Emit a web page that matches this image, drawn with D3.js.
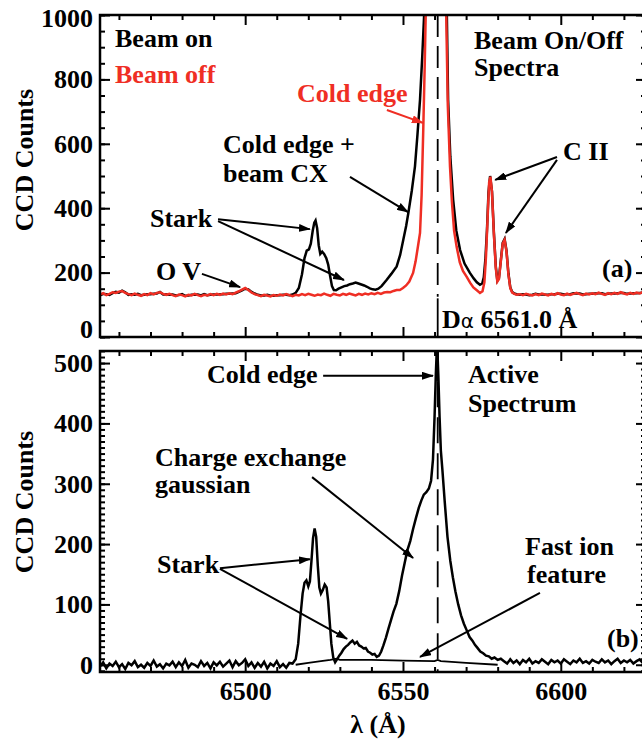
<!DOCTYPE html>
<html>
<head>
<meta charset="utf-8">
<script src="https://cdn.jsdelivr.net/npm/d3@7"></script>
<style>
  body { margin: 0; background: #fff; }
  svg text { font-family: "Liberation Serif", "Times New Roman", serif; font-weight: bold; }
</style>
</head>
<body>
<div id="chart"></div>
<script>
// ---- data ----
const xDomain = [6454, 6627];
const xMajorTicks = [6500, 6550, 6600];
const xMinorTicks = [6460, 6470, 6480, 6490, 6510, 6520, 6530, 6540, 6560, 6570, 6580, 6590, 6610, 6620];
const yATicks = [0, 200, 400, 600, 800, 1000];
const yBTicks = [0, 100, 200, 300, 400, 500];
const dAlpha = 6561.0;

// beam off spectrum (a), 1 A steps on the flat parts
const offBaseLeft = [
  132,136,130,134,139,137,141,143,137,133,
  130,135,131,128,133,130,136,132,137,139,
  134,131,134,130,127,132,130,126,131,129,
  134,130,127,131,129,133,130,134,131,135,
  132,136,133,138,142,147,152,146,138,133,
  130,127,131,129,126,130,128,132,129,133,
  130,127,131,129,133,130,134,131,128,132,
  130,135,131,128,134,131,129,134,131,135,
  132,129,134,131,135,132,136,133,137,134,
  138,140,139,143,146];                       // 6454..6548
const offPeak = [
  [6549,146],[6550,152],[6551,160],[6552,172],[6553.2,199],[6554,235],[6554.8,285],[6555.4,323],
  [6555.9,440],[6556.4,634],[6556.9,850],[6557.3,1050],[6558,1600],[6559,2600],[6560.5,3500],
  [6562,2600],[6563,1600],[6563.7,1000],[6564.2,720],[6564.9,529],[6565.5,420],[6566.2,330],
  [6567,280],[6568,232],[6569,205],[6570.2,187],[6571.3,168],[6572.3,154],[6573.3,146],
  [6574.4,137],[6575.2,142],[6575.8,170],[6576.3,250],[6576.9,390],[6577.3,480],[6577.7,498],
  [6578.2,450],[6578.8,320],[6579.4,215],[6579.9,172],[6580.4,180],[6581,235],[6581.6,290],
  [6582.2,302],[6582.8,265],[6583.4,195],[6584,152],[6584.6,138],[6585.3,134],[6586,131]];
const offBaseRight = [
  133,130,134,131,129,133,130,135,132,129,
  134,131,136,132,130,135,131,134,137,133,
  130,135,132,136,133,138,134,131,136,133,
  137,134,139,135,132,137,134,138,135,140,136]; // 6587..6627

// beam on spectrum (a)
const onBaseLeft = [
  129,134,133,131,136,140,138,144,139,131,
  133,131,134,130,131,133,133,134,135,140,
  132,133,131,132,129,130,133,128,129,131,
  131,132,129,133,130,131,132,132,133,133,
  134,134,135,136,140,145,150,148,140,135,
  131,129,129,131,128,128,130,130,131,131,
  130];                                        // 6454..6514
const onFeature = [
  [6515,132],[6516,137],[6517,152],[6518,195],[6518.8,245],[6519.5,268],[6520.2,272],[6520.8,290],
  [6521.4,330],[6521.9,355],[6522.3,362],[6522.8,338],[6523.3,285],[6523.8,258],[6524.4,265],
  [6525,258],[6525.7,245],[6526.3,225],[6526.9,190],[6527.5,158],[6528.1,146],[6528.8,145],
  [6529.6,150],[6530.5,154],[6531.4,158],[6532.3,160],[6533.2,164],[6534.1,166],[6535,169],
  [6535.9,166],[6536.8,163],[6537.7,160],[6538.6,156],[6539.5,151],[6540.4,148],[6541.3,147],
  [6542.2,150],[6543.2,158],[6544.8,177],[6546.3,196],[6548,219],[6549.1,255],[6550.1,302],
  [6551,345],[6551.7,385],[6552.8,455],[6553.8,530],[6554.6,630],[6555.4,737],[6556.1,870],
  [6556.7,1000],[6557.5,1500],[6559,2700],[6560.5,3700],[6562,2700],[6563.2,1500],[6563.9,1000],
  [6564.3,737],[6565,560],[6565.9,426],[6566.9,330],[6568.1,270],[6569.5,228],[6571.2,199],
  [6572.4,182],[6573.4,170],[6574.4,162],[6575.1,166],[6575.6,185],[6576.1,240],[6576.6,330],
  [6577.1,450],[6577.6,500],[6578.2,452],[6578.8,325],[6579.4,220],[6579.9,175],[6580.4,183],
  [6581,238],[6581.6,292],[6582.2,304],[6582.8,268],[6583.4,198],[6584,154],[6584.6,140],
  [6585.3,135],[6586,133]];
const onBaseRight = [
  131,133,132,130,131,134,132,133,131,131,
  133,133,134,134,132,133,133,136,135,135,
  132,133,134,134,135,136,136,133,134,135,
  135,136,137,137,134,135,136,136,137,138,138]; // 6587..6627

// active (beam on - beam off) spectrum (b)
const activeBaseLeft = [
  -3,4,-6,2,-2,5,-4,1,-7,3,
  -1,6,-4,0,-5,3,-2,7,-3,1,
  -6,2,-1,5,-4,4,-2,8,-5,2,
  0,-4,6,-2,3,-6,4,-1,5,-3,
  2,7,-4,6,-1,3,9,-2,4,-5,
  3,-3,5,-6,2,-2,6,-4,1,-5,
  3];                                          // 6454..6514
const activeFeature = [
  [6515,2],[6516,9],[6516.8,35],[6517.5,80],[6518.2,118],[6518.8,136],[6519.4,140],[6520,130],
  [6520.5,138],[6521,172],[6521.5,210],[6522,226],[6522.5,212],[6523,165],[6523.5,128],[6524,118],
  [6524.6,124],[6525.2,133],[6525.8,128],[6526.3,105],[6526.8,70],[6527.3,35],[6527.9,12],
  [6528.5,4],[6529.1,9],[6529.8,15],[6530.5,20],[6531.2,26],[6531.9,30],[6532.6,33],[6533.3,37],
  [6534,40],[6534.7,35],[6535.4,38],[6536.1,32],[6536.8,30],[6537.5,27],[6538.2,28],[6538.9,22],
  [6539.6,20],[6540.3,17],[6541,18],[6541.7,13],[6542.4,15],[6543.1,22],[6543.8,32],[6544.6,45],
  [6545.4,60],[6546.2,74],[6547,88],[6547.9,101],[6548.8,122],[6549.7,148],[6550.5,168],
  [6551.4,190],[6552.3,205],[6553.2,225],[6554.1,243],[6555,260],[6555.8,272],[6556.6,282],
  [6557.4,286],[6558.2,292],[6558.9,305],[6559.5,340],[6560,410],[6560.4,480],[6560.8,535],
  [6561.2,480],[6561.6,410],[6562,355],[6562.5,322],[6563.2,272],[6564.1,212],[6565,172],
  [6565.8,145],[6566.6,122],[6567.5,100],[6568.4,82],[6569.3,68],[6570.2,57],[6571.1,46],
  [6572,40],[6572.8,33],[6573.6,28],[6574.5,22],[6575.4,19],[6576.3,15],[6577.2,14],[6578.1,10],
  [6579,12],[6580,8],[6581,10]];
const activeBaseRight = [
  6,2,9,3,7,1,8,4,10,2,
  6,3,9,5,1,8,4,7,2,9,
  5,1,7,4,10,3,6,2,8,5,
  3,9,4,7,1,6,10,3,7,4,
  8,2,6,9,3,7];                                // 6582..6627

// fast ion feature fit (b)
const fastIon = [[6516,0],[6520,3],[6524,6],[6527,8],[6529,10],[6530,8],[6540,8],[6550,7],
  [6560,6],[6561,8],[6562,6],[6570,3],[6580,0]];

// annotation arrows in data units
const arrowsA = [
  {from: [6491.4, 366], to: [6520.5, 335], color: 'black'},
  {from: [6491.4, 360], to: [6531.3, 177], color: 'black'},
  {from: [6486.3, 196], to: [6498.4, 155], color: 'black'},
  {from: [6533.2, 497], to: [6551.6, 388], color: 'black'},
  {from: [6544.9, 705], to: [6556.3, 665], color: 'red'},
  {from: [6598.8, 559], to: [6579.2, 488], color: 'black'},
  {from: [6598.8, 550], to: [6582.6, 323], color: 'black'}
];
const arrowsB = [
  {from: [6524.7, 479], to: [6559.5, 479], color: 'black'},
  {from: [6521.2, 311], to: [6553.2, 177], color: 'black'},
  {from: [6492.0, 160], to: [6520.5, 175], color: 'black'},
  {from: [6492.0, 159], to: [6532.3, 43], color: 'black'},
  {from: [6593.4, 119], to: [6555.4, 13], color: 'black'}
];

// ---- layout ----
const width = 642, height = 743;
const left = 100, right = 646;
const panelA = {top: 15, bottom: 337};
const panelB = {top: 351, bottom: 672};
const red = '#ef2e24';
const fontSize = 26;

const x = d3.scaleLinear().domain(xDomain).range([left, right]);
const yA = d3.scaleLinear().domain([0, 1000]).range([panelA.bottom, panelA.top]);
const yB = d3.scaleLinear().domain([-12, 520]).range([panelB.bottom, panelB.top]);

function expand(start, counts) {
  return counts.map((c, i) => [start + i, c]);
}
const beamOff = [...expand(6454, offBaseLeft), ...offPeak, ...expand(6587, offBaseRight)];
const beamOn = [...expand(6454, onBaseLeft), ...onFeature, ...expand(6587, onBaseRight)];
const active = [...expand(6454, activeBaseLeft), ...activeFeature, ...expand(6582, activeBaseRight)];

const svg = d3.select('#chart')
  .append('svg')
  .attr('width', width)
  .attr('height', height);

const defs = svg.append('defs');
[['A', panelA], ['B', panelB]].forEach(([id, p]) => {
  defs.append('clipPath').attr('id', 'clip' + id)
    .append('rect')
    .attr('x', left).attr('y', p.top)
    .attr('width', right - left).attr('height', p.bottom - p.top);
});
[['black', 'black'], ['red', red]].forEach(([id, col]) => {
  defs.append('marker')
    .attr('id', 'arrow-' + id)
    .attr('viewBox', '0 0 12 8')
    .attr('refX', 11).attr('refY', 4)
    .attr('markerWidth', 12).attr('markerHeight', 8)
    .attr('markerUnits', 'userSpaceOnUse')
    .attr('orient', 'auto')
    .append('path')
    .attr('d', 'M0,0L12,4L0,8Z')
    .attr('fill', col);
});

function drawAxes(y, p, yMajor, yMinor, withXLabels) {
  const g = svg.append('g');
  const style = sel => {
    sel.select('.domain').remove();
    sel.selectAll('.tick line').attr('stroke', 'black').attr('stroke-width', 2);
    sel.selectAll('text')
      .attr('font-family', '"Liberation Serif", serif')
      .attr('font-weight', 'bold')
      .attr('font-size', fontSize)
      .attr('fill', 'black');
  };
  // left
  g.append('g').attr('transform', `translate(${left},0)`)
    .call(d3.axisLeft(y).tickValues(yMinor).tickSize(-5).tickFormat('')).call(style);
  const yl = g.append('g').attr('transform', `translate(${left},0)`)
    .call(d3.axisLeft(y).tickValues(yMajor).tickSize(-10).tickPadding(7).tickFormat(d3.format('d')))
    .call(style);
  // right
  g.append('g').attr('transform', `translate(${right},0)`)
    .call(d3.axisRight(y).tickValues(yMinor).tickSize(-5).tickFormat('')).call(style);
  g.append('g').attr('transform', `translate(${right},0)`)
    .call(d3.axisRight(y).tickValues(yMajor).tickSize(-10).tickFormat('')).call(style);
  // top
  g.append('g').attr('transform', `translate(0,${p.top})`)
    .call(d3.axisTop(x).tickValues(xMinorTicks).tickSize(-5).tickFormat('')).call(style);
  g.append('g').attr('transform', `translate(0,${p.top})`)
    .call(d3.axisTop(x).tickValues(xMajorTicks).tickSize(-10).tickFormat('')).call(style);
  // bottom
  g.append('g').attr('transform', `translate(0,${p.bottom})`)
    .call(d3.axisBottom(x).tickValues(xMinorTicks).tickSize(-5).tickFormat('')).call(style);
  g.append('g').attr('transform', `translate(0,${p.bottom})`)
    .call(d3.axisBottom(x).tickValues(xMajorTicks).tickSize(-10).tickPadding(10)
      .tickFormat(withXLabels ? d3.format('d') : '')).call(style);
  // frame
  g.append('rect')
    .attr('x', left).attr('y', p.top)
    .attr('width', right - left).attr('height', p.bottom - p.top)
    .attr('fill', 'none').attr('stroke', 'black').attr('stroke-width', 2.5);
  return yl;
}

function line(y) {
  return d3.line().x(d => x(d[0])).y(d => y(d[1]));
}

function drawArrows(list, y) {
  svg.append('g').selectAll('line')
    .data(list)
    .join('line')
    .attr('x1', d => x(d.from[0])).attr('y1', d => y(d.from[1]))
    .attr('x2', d => x(d.to[0])).attr('y2', d => y(d.to[1]))
    .attr('stroke', d => d.color === 'red' ? red : 'black')
    .attr('stroke-width', 2)
    .attr('marker-end', d => `url(#arrow-${d.color})`);
}

function addText(str, px, py, opts = {}) {
  const t = svg.append('text')
    .attr('x', px).attr('y', py)
    .attr('font-size', opts.size || fontSize)
    .attr('fill', opts.color || 'black')
    .attr('text-anchor', opts.anchor || 'start')
    .text(str);
  if (opts.transform) t.attr('transform', opts.transform).attr('x', 0).attr('y', 0);
  return t;
}

// ---- panel (a) ----
const plotA = svg.append('g').attr('clip-path', 'url(#clipA)');
plotA.append('path').datum(beamOn)
  .attr('d', line(yA)).attr('fill', 'none').attr('stroke', 'black').attr('stroke-width', 2.5);
plotA.append('path').datum(beamOff)
  .attr('d', line(yA)).attr('fill', 'none').attr('stroke', red).attr('stroke-width', 2.5);
// D-alpha reference: dashed, then solid near the label
svg.append('line')
  .attr('x1', x(dAlpha)).attr('x2', x(dAlpha))
  .attr('y1', panelA.top).attr('y2', yA(125))
  .attr('stroke', 'black').attr('stroke-width', 1.8).attr('stroke-dasharray', '22,9');
svg.append('line')
  .attr('x1', x(dAlpha)).attr('x2', x(dAlpha))
  .attr('y1', yA(120)).attr('y2', panelA.bottom)
  .attr('stroke', 'black').attr('stroke-width', 1.8);

const ylA = drawAxes(yA, panelA, yATicks, d3.range(0, 1001, 50), false);
ylA.selectAll('.tick text')
  .attr('dy', d => d === 1000 ? '0.45em' : d === 0 ? '0.02em' : '0.32em');
drawArrows(arrowsA, yA);

addText('Beam on', 115, 47);
addText('Beam off', 115, 83, {color: red});
addText('Cold edge', 297, 102, {color: red});
addText('Cold edge +', 223, 153);
addText('beam CX', 223, 182);
addText('Stark', 150, 227);
addText('O V', 156, 280);
addText('Beam On/Off', 474, 49);
addText('Spectra', 474, 76);
addText('C II', 563, 160);
addText('(a)', 602, 277);
const dl = svg.append('text').attr('x', 442).attr('y', 328).attr('font-size', fontSize);
dl.append('tspan').text('D');
dl.append('tspan').text('α').attr('font-family', '"DejaVu Sans", sans-serif')
  .attr('font-weight', 'normal').attr('font-size', 20);
dl.append('tspan').text(' 6561.0 Å');
addText('CCD Counts', 0, 0, {anchor: 'middle', transform: 'translate(33,160) rotate(-90)'});

// ---- panel (b) ----
const plotB = svg.append('g').attr('clip-path', 'url(#clipB)');
plotB.append('path').datum(fastIon)
  .attr('d', line(yB)).attr('fill', 'none').attr('stroke', 'black').attr('stroke-width', 1.8);
plotB.append('path').datum(active)
  .attr('d', line(yB)).attr('fill', 'none').attr('stroke', 'black').attr('stroke-width', 2.5);
svg.append('line')
  .attr('x1', x(dAlpha)).attr('x2', x(dAlpha))
  .attr('y1', panelB.top).attr('y2', yB(470))
  .attr('stroke', 'black').attr('stroke-width', 2.5);
svg.append('line')
  .attr('x1', x(dAlpha)).attr('x2', x(dAlpha))
  .attr('y1', yB(470)).attr('y2', panelB.bottom)
  .attr('stroke', 'black').attr('stroke-width', 1.8).attr('stroke-dasharray', '26,10');

drawAxes(yB, panelB, yBTicks, d3.range(-10, 521, 10), true);
drawArrows(arrowsB, yB);

addText('Cold edge', 207, 383);
addText('Active', 468, 383);
addText('Spectrum', 468, 412);
addText('Charge exchange', 155, 466);
addText('gaussian', 155, 493);
addText('Stark', 157, 573);
addText('Fast ion', 525, 555);
addText('feature', 527, 583);
addText('(b)', 607, 647);
addText('CCD Counts', 0, 0, {anchor: 'middle', transform: 'translate(33,502) rotate(-90)'});
addText('λ (Å)', 378, 733, {anchor: 'middle'});
</script>
</body>
</html>
